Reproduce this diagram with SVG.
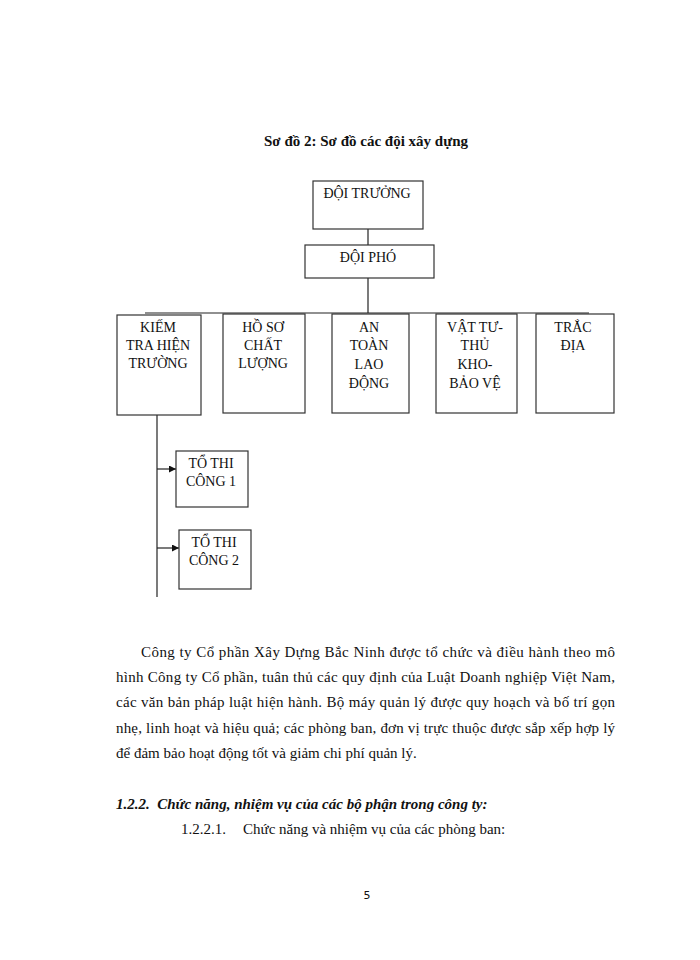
<svg xmlns="http://www.w3.org/2000/svg" width="700" height="960" viewBox="0 0 700 960">
<defs>
<style>
.box{fill:#fff;stroke:#333;stroke-width:1.2}
.ln{stroke:#222;stroke-width:1.2;fill:none}
.t{font-family:"Liberation Serif","Times New Roman",serif;font-size:14px;fill:#111;text-anchor:middle}
.p{font-family:"Liberation Serif","Times New Roman",serif;font-size:15px;fill:#111}
</style>
<marker id="ah" viewBox="0 0 10 10" refX="10" refY="5" markerWidth="7" markerHeight="7" markerUnits="userSpaceOnUse" orient="auto">
<path d="M0,0 L10,5 L0,10 z" fill="#111"/>
</marker>
</defs>
<rect width="700" height="960" fill="#fff"/>
<text x="366" y="146" font-family="Liberation Serif,serif" font-size="15" font-weight="bold" text-anchor="middle" fill="#111">Sơ đồ 2: Sơ đồ các đội xây dựng</text>

<g id="connectors">
<line class="ln" x1="368" y1="214" x2="368" y2="245"/>
<line class="ln" x1="368" y1="272" x2="368" y2="313"/>
<line class="ln" x1="145" y1="313" x2="589" y2="313"/>
<line class="ln" x1="157" y1="393" x2="157" y2="597"/>
<line class="ln" x1="157" y1="469" x2="176" y2="469" marker-end="url(#ah)"/>
<line class="ln" x1="157" y1="548" x2="179" y2="548" marker-end="url(#ah)"/>
</g>

<g id="doi-truong">
<rect class="box" x="313" y="181" width="110" height="48"/>
<text class="t" x="367" y="198">ĐỘI TRƯỞNG</text>
</g>
<g id="doi-pho">
<rect class="box" x="305" y="245" width="129" height="33"/>
<text class="t" x="368" y="262">ĐỘI PHÓ</text>
</g>
<g id="kiem-tra">
<rect class="box" x="117" y="315" width="84" height="100"/>
<text class="t" x="158" y="332">KIẾM</text>
<text class="t" x="158" y="350">TRA HIỆN</text>
<text class="t" x="158" y="368">TRƯỜNG</text>
</g>
<g id="ho-so">
<rect class="box" x="223" y="314" width="82" height="99"/>
<text class="t" x="263" y="332">HỒ SƠ</text>
<text class="t" x="263" y="350">CHẤT</text>
<text class="t" x="263" y="368">LƯỢNG</text>
</g>
<g id="an-toan">
<rect class="box" x="332" y="314" width="77" height="99"/>
<text class="t" x="369" y="332">AN</text>
<text class="t" x="369" y="350">TOÀN</text>
<text class="t" x="369" y="369">LAO</text>
<text class="t" x="369" y="388">ĐỘNG</text>
</g>
<g id="vat-tu">
<rect class="box" x="436" y="314" width="81" height="99"/>
<text class="t" x="475" y="332">VẬT TƯ-</text>
<text class="t" x="475" y="350">THỦ</text>
<text class="t" x="475" y="369">KHO-</text>
<text class="t" x="475" y="388">BẢO VỆ</text>
</g>
<g id="trac-dia">
<rect class="box" x="536" y="314" width="78" height="99"/>
<text class="t" x="573" y="332">TRẮC</text>
<text class="t" x="573" y="350">ĐỊA</text>
</g>
<g id="to-thi-cong-1">
<rect class="box" x="176" y="451" width="72" height="56"/>
<text class="t" x="211" y="468">TỔ THI</text>
<text class="t" x="211" y="486">CÔNG 1</text>
</g>
<g id="to-thi-cong-2">
<rect class="box" x="179" y="530" width="72" height="59"/>
<text class="t" x="214" y="547">TỔ THI</text>
<text class="t" x="214" y="565">CÔNG 2</text>
</g>

<text class="p" x="141" y="657" textLength="474" lengthAdjust="spacing">Công ty Cổ phần Xây Dựng Bắc Ninh được tổ chức và điều hành theo mô</text>
<text class="p" x="116" y="682" textLength="499" lengthAdjust="spacing">hình Công ty Cổ phần, tuân thủ các quy định của Luật Doanh nghiệp Việt Nam,</text>
<text class="p" x="116" y="707" textLength="499" lengthAdjust="spacing">các văn bản pháp luật hiện hành. Bộ máy quản lý được quy hoạch và bố trí gọn</text>
<text class="p" x="116" y="733" textLength="499" lengthAdjust="spacing">nhẹ, linh hoạt và hiệu quả; các phòng ban, đơn vị trực thuộc được sắp xếp hợp lý</text>
<text class="p" x="116" y="758">để đảm bảo hoạt động tốt và giảm chi phí quản lý.</text>
<text class="p" x="116" y="809" font-size="14.6" font-weight="bold" font-style="italic" xml:space="preserve">1.2.2.  Chức năng, nhiệm vụ của các bộ phận trong công ty:</text>
<text class="p" x="181" y="834">1.2.2.1.</text>
<text class="p" x="243" y="834">Chức năng và nhiệm vụ của các phòng ban:</text>
<text x="367" y="899" font-family="DejaVu Sans,sans-serif" font-size="11" text-anchor="middle" fill="#111">5</text>
</svg>
